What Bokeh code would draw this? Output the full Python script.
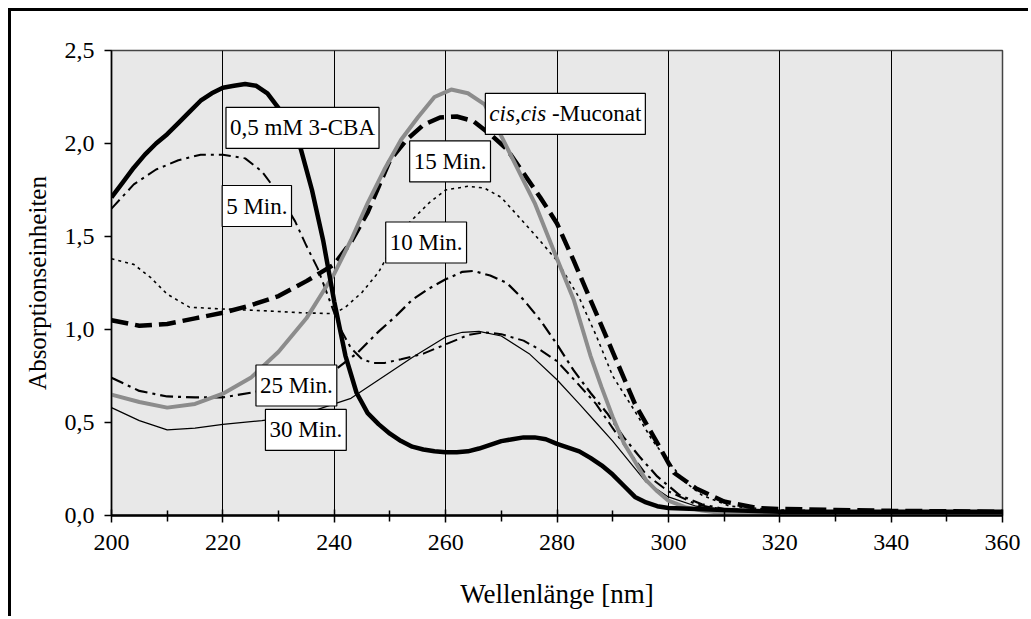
from bokeh.plotting import figure
from bokeh.models import FixedTicker, Label
from bokeh.embed import file_html
from bokeh.resources import INLINE

# ---------------- data ----------------
cba_x = [200, 202, 204, 206, 208, 210, 212, 214, 216, 218, 220, 222, 224, 226, 228, 230, 232, 234, 236, 238,
         240, 242, 244, 246, 248, 250, 252, 254, 256, 258, 260, 262, 264, 266, 268, 270, 272, 274, 276, 278,
         280, 282, 284, 286, 288, 290, 292, 294, 296, 298, 300, 305, 310, 320, 340, 360]
cba_y = [1.71, 1.79, 1.87, 1.94, 2.00, 2.05, 2.11, 2.17, 2.23, 2.27, 2.30, 2.31, 2.32, 2.31, 2.27, 2.19, 2.10, 1.97, 1.75, 1.48,
         1.15, 0.86, 0.66, 0.55, 0.49, 0.44, 0.40, 0.37, 0.355, 0.345, 0.34, 0.34, 0.345, 0.36, 0.38, 0.40, 0.41, 0.42, 0.42, 0.41,
         0.385, 0.365, 0.345, 0.31, 0.27, 0.22, 0.16, 0.10, 0.07, 0.05, 0.04, 0.035, 0.03, 0.02, 0.02, 0.02]

muc_x = [200, 205, 210, 215, 220, 225, 230, 235, 240, 243, 246, 249, 252, 255, 258, 261, 264, 267, 270, 273,
         276, 280, 283, 286, 288, 290, 292, 294, 296, 298, 300, 303, 306, 310, 315, 320, 340, 360]
muc_y = [0.65, 0.61, 0.58, 0.60, 0.655, 0.74, 0.88, 1.06, 1.30, 1.48, 1.68, 1.86, 2.02, 2.14, 2.25, 2.29, 2.27, 2.21, 2.04, 1.86,
         1.68, 1.38, 1.16, 0.86, 0.69, 0.53, 0.39, 0.29, 0.19, 0.13, 0.08, 0.045, 0.027, 0.012, 0.005, 0.0, 0.0, 0.0]

m15_x = [200, 205, 210, 215, 220, 225, 230, 235, 240, 243, 246, 248, 250, 253, 256, 259, 262, 265, 268, 271,
         274, 277, 280, 283, 286, 290, 294, 298, 301, 305, 310, 316, 320, 330, 340, 360]
m15_y = [1.05, 1.02, 1.03, 1.06, 1.09, 1.13, 1.18, 1.26, 1.35, 1.47, 1.63, 1.77, 1.91, 2.02, 2.10, 2.14, 2.145, 2.12, 2.05, 1.97,
         1.84, 1.71, 1.57, 1.37, 1.16, 0.88, 0.60, 0.39, 0.23, 0.145, 0.075, 0.04, 0.035, 0.03, 0.025, 0.02]

m5_x = [200, 204, 208, 212, 216, 220, 224, 227, 230, 233, 235, 237, 239, 241, 243, 245, 247, 249, 252, 256,
        260, 264, 267, 270, 274, 277, 280, 284, 287, 290, 293, 296, 300, 305, 310, 320, 340, 360]
m5_y = [1.65, 1.78, 1.86, 1.91, 1.94, 1.94, 1.92, 1.85, 1.73, 1.58, 1.45, 1.33, 1.17, 1.01, 0.90, 0.84, 0.82, 0.82, 0.84, 0.87,
        0.92, 0.97, 0.985, 0.975, 0.94, 0.89, 0.83, 0.70, 0.60, 0.47, 0.34, 0.22, 0.13, 0.06, 0.03, 0.02, 0.02, 0.02]

m10_x = [200, 204, 207, 210, 214, 220, 228, 234, 240, 242, 245, 248, 250, 252, 255, 257, 260, 264, 267, 270,
         273, 276, 280, 284, 287, 290, 294, 297, 300, 303, 306, 311, 320, 340, 360]
m10_y = [1.38, 1.35, 1.28, 1.19, 1.12, 1.11, 1.10, 1.09, 1.085, 1.12, 1.20, 1.31, 1.42, 1.53, 1.62, 1.68, 1.75, 1.77, 1.76, 1.71,
         1.61, 1.51, 1.37, 1.17, 0.97, 0.75, 0.56, 0.41, 0.29, 0.18, 0.11, 0.05, 0.03, 0.02, 0.02]

m25_x = [200, 205, 210, 215, 220, 225, 230, 235, 240, 244, 248, 251, 254, 257, 260, 263, 265, 268, 271, 274,
         277, 280, 283, 286, 289, 292, 295, 298, 302, 306, 310, 320, 340, 360]
m25_y = [0.74, 0.67, 0.64, 0.635, 0.635, 0.66, 0.69, 0.73, 0.78, 0.87, 0.99, 1.07, 1.16, 1.22, 1.27, 1.31, 1.315, 1.29, 1.25, 1.16,
         1.05, 0.92, 0.78, 0.66, 0.55, 0.42, 0.31, 0.21, 0.11, 0.06, 0.035, 0.02, 0.02, 0.02]

m30_x = [200, 205, 210, 215, 220, 227, 232, 236, 240, 243, 248, 254, 260, 263, 266, 270, 275, 280, 284, 287,
         290, 293, 296, 300, 305, 310, 320, 340, 360]
m30_y = [0.58, 0.51, 0.46, 0.47, 0.49, 0.51, 0.53, 0.56, 0.60, 0.63, 0.73, 0.85, 0.96, 0.985, 0.99, 0.965, 0.87, 0.73, 0.60, 0.50,
         0.40, 0.29, 0.18, 0.10, 0.05, 0.03, 0.02, 0.02, 0.02]

x_ticks = [200, 220, 240, 260, 280, 300, 320, 340, 360]
x_minor = [210, 230, 250, 270, 290, 310, 330, 350]
y_ticks = [0.0, 0.5, 1.0, 1.5, 2.0, 2.5]
y_tick_labels = ["0,0", "0,5", "1,0", "1,5", "2,0", "2,5"]

x_title = "Wellenlänge [nm]"
y_title = "Absorptionseinheiten"

FONT = "Liberation Serif"
OFF = 11  # outer page frame: 8px margin + 3px border

p = figure(width=1031 - OFF, height=619 - OFF, x_range=(200, 360), y_range=(0, 2.5),
           output_backend="svg", toolbar_location=None,
           min_border_left=111 - OFF, min_border_right=29, min_border_top=50 - OFF, min_border_bottom=104)
p.styles = {"margin-left": "8px", "margin-top": "8px",
            "border-left": "3px solid black", "border-top": "3px solid black"}

p.background_fill_color = "#e8e8e8"
p.border_fill_color = "white"
p.outline_line_color = "#444444"
p.outline_line_width = 1.5

# grid
p.ygrid.visible = False
p.xgrid.grid_line_color = "black"
p.xgrid.grid_line_width = 1
p.xgrid.ticker = FixedTicker(ticks=x_ticks)

# x axis
p.xaxis.ticker = FixedTicker(ticks=x_ticks, minor_ticks=x_minor)
p.xaxis.axis_line_width = 2.5
p.xaxis.axis_line_color = "black"
p.xaxis.major_tick_in = 6
p.xaxis.major_tick_out = 7
p.xaxis.minor_tick_in = 5
p.xaxis.minor_tick_out = 6
p.xaxis.major_tick_line_width = 1.5
p.xaxis.minor_tick_line_width = 1.5
p.xaxis.major_label_standoff = 12
p.xaxis.major_label_text_font = FONT
p.xaxis.major_label_text_font_size = "24px"
p.xaxis.major_label_text_color = "black"
p.xaxis.axis_label = x_title
p.xaxis.axis_label_text_font = FONT
p.xaxis.axis_label_text_font_size = "27px"
p.xaxis.axis_label_text_font_style = "normal"
p.xaxis.axis_label_text_color = "black"
p.xaxis.axis_label_standoff = 26

# y axis
p.yaxis.ticker = FixedTicker(ticks=y_ticks, minor_ticks=[])
p.yaxis.major_label_overrides = {t: s for t, s in zip(y_ticks, y_tick_labels)}
p.yaxis.axis_line_width = 1.5
p.yaxis.axis_line_color = "black"
p.yaxis.major_tick_in = 0
p.yaxis.major_tick_out = 7
p.yaxis.major_tick_line_width = 1.5
p.yaxis.minor_tick_out = 0
p.yaxis.minor_tick_in = 0
p.yaxis.major_label_standoff = 10
p.yaxis.major_label_text_font = FONT
p.yaxis.major_label_text_font_size = "24px"
p.yaxis.major_label_text_color = "black"
p.yaxis.axis_label = y_title
p.yaxis.axis_label_text_font = FONT
p.yaxis.axis_label_text_font_size = "25px"
p.yaxis.axis_label_text_font_style = "normal"
p.yaxis.axis_label_text_color = "black"
p.yaxis.axis_label_standoff = 11

# curves
p.line(m30_x, m30_y, line_color="black", line_width=1.2)
p.line(m25_x, m25_y, line_color="black", line_width=2.2, line_dash="13 5 3 5")
p.line(m10_x, m10_y, line_color="black", line_width=1.6, line_dash="3 4")
p.line(m5_x, m5_y, line_color="black", line_width=2, line_dash="12 5 3 5")
p.line(m15_x, m15_y, line_color="black", line_width=4.5, line_dash="17 7")
p.line(muc_x, muc_y, line_color="#8c8c8c", line_width=4)
p.line(cba_x, cba_y, line_color="black", line_width=4.5)

# label boxes
LFS = "23px"
def box_label(x, y, text, color="black"):
    lab = Label(x=x, y=y, y_offset=-3, text=text, text_align="center", text_baseline="middle",
                text_font=FONT, text_font_size=LFS, text_color=color,
                background_fill_color="white", border_line_color="black", border_line_width=1.2,
                padding=(4, 8))
    p.add_layout(lab)

box_label(234.3, 2.10, "0,5 mM 3-CBA")
box_label(260.8, 1.92, "15 Min.")
box_label(226.1, 1.68, "5 Min.")
box_label(256.5, 1.484, "10 Min.")
box_label(233.2, 0.715, "25 Min.")
box_label(234.9, 0.476, "30 Min.")

# cis,cis-Muconat (mixed italic / normal)
mx, my = 281.5, 2.175
box_label(mx, my, "cis,cis -Muconat", color="white")
W = 152
p.add_layout(Label(x=mx, y=my, y_offset=-3, x_offset=-W / 2, text="cis,cis", text_align="left", text_baseline="middle",
                   text_font=FONT, text_font_size=LFS, text_font_style="italic", text_color="black"))
p.add_layout(Label(x=mx, y=my, y_offset=-3, x_offset=W / 2, text="-Muconat", text_align="right", text_baseline="middle",
                   text_font=FONT, text_font_size=LFS, text_color="black"))

open("out.html", "w").write(file_html(p, INLINE))
